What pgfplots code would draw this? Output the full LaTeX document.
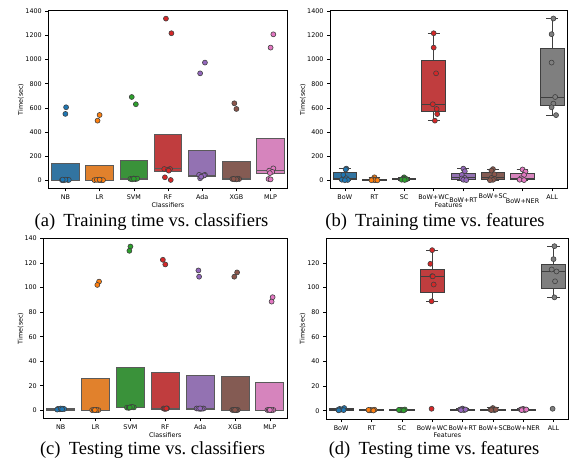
\documentclass[border=0pt]{standalone}
\usepackage{fontspec}
\setmainfont{Liberation Serif}
\newfontfamily\dejavu{DejaVu Sans}
\usepackage{pgfplots}
\pgfplotsset{compat=1.18}
\usepgfplotslibrary{statistics}
\definecolor{bBlue}{HTML}{3274A1}
\definecolor{bOrange}{HTML}{E1812C}
\definecolor{bGreen}{HTML}{3A923A}
\definecolor{bRed}{HTML}{C03D3E}
\definecolor{bPurple}{HTML}{9372B2}
\definecolor{bBrown}{HTML}{845B53}
\definecolor{bPink}{HTML}{D684BD}
\definecolor{bGray}{HTML}{7F7F7F}
\definecolor{pBlue}{HTML}{1F77B4}
\definecolor{pOrange}{HTML}{FF7F0E}
\definecolor{pGreen}{HTML}{2CA02C}
\definecolor{pRed}{HTML}{D62728}
\definecolor{pPurple}{HTML}{9467BD}
\definecolor{pBrown}{HTML}{8C564B}
\definecolor{pPink}{HTML}{E377C2}
\definecolor{pGray}{HTML}{7F7F7F}
\definecolor{edgeA}{HTML}{5A5A5A}
\definecolor{edgeB}{HTML}{3F3F3F}
\definecolor{ptedge}{HTML}{404040}
\newcommand{\smallfont}{\dejavu\fontsize{6.4}{7}\selectfont}
\newcommand{\low}[2]{\raisebox{#1}[\height][\depth]{#2}}
\pgfplotsset{
  panel/.style={scale only axis, anchor=south west,
    axis line style={line width=0.7pt, black},
    tick align=outside, major tick length=3pt, tick pos=left,
    tick style={line width=0.6pt, black},
    ticklabel style={font=\smallfont},
    label style={font=\smallfont},
    /pgf/number format/assume math mode=true,
    /pgf/number format/1000 sep={},
    ylabel={Time(sec)},
    boxplot/draw direction=y,
  },
}
% box: position, lower whisker, Q1, median, Q3, upper whisker, fill, edge
\newcommand{\bx}[8]{\addplot[boxplot prepared={draw position=#1, lower whisker=#2, lower quartile=#3, median=#4, upper quartile=#5, upper whisker=#6, box extend=0.8, whisker extend=0.4}, fill=#7, draw=#8, line width=0.9pt] coordinates {};}
\newcommand{\pts}[2]{\addplot[only marks, mark=*, mark size=2.5pt, mark options={fill=#1, draw=ptedge, line width=0.6pt}] coordinates {#2};}
\begin{document}
\begin{tikzpicture}
\useasboundingbox (0pt,0pt) rectangle (570pt,458pt);
% ---------------- (a) ----------------
\begin{axis}[panel, at={(48.3pt,269.7pt)}, width=239.4pt, height=178pt,
  xmin=-0.5, xmax=6.5, ymin=-66, ymax=1408,
  xtick={0,...,6}, xticklabels={NB,LR,SVM,RF,Ada,XGB,MLP},
  ytick={0,200,...,1400},
  xlabel={Classifiers},
  xlabel style={at={(axis description cs:0.5,-0.094)}, anchor=center},
  ylabel style={at={(axis description cs:-0.115,0.5)}, anchor=center}]
\bx{0}{1}{1}{3}{140}{140}{bBlue}{edgeA}
\bx{1}{1}{1}{3}{124}{124}{bOrange}{edgeA}
\bx{2}{8}{8}{12}{165}{165}{bGreen}{edgeA}
\bx{3}{72}{72}{95}{376}{376}{bRed}{edgeA}
\bx{4}{30}{30}{42}{251}{251}{bPurple}{edgeA}
\bx{5}{8}{8}{12}{160}{160}{bBrown}{edgeA}
\bx{6}{58}{58}{80}{343}{343}{bPink}{edgeA}
\pts{pBlue}{(0.02,605)(0.0,550)(-0.1,2)(0.06,4)(-0.05,1)(0.1,3)(0.0,5)(-0.08,6)}
\pts{pOrange}{(1.0,541)(0.94,494)(0.85,2)(0.98,3)(1.05,1)(0.92,4)(1.1,2)(1.0,5)}
\pts{pGreen}{(1.94,690)(2.06,630)(1.9,12)(2.0,15)(2.05,10)(1.95,8)(2.1,14)(2.0,13)}
\pts{pRed}{(2.94,1339)(3.1,1218)(2.89,94)(3.06,94)(2.91,25)(3.08,3)(3.0,88)(3.02,80)}
\pts{pPurple}{(4.08,975)(3.94,886)(3.91,45)(4.08,45)(3.94,17)(4.0,35)(4.05,40)(3.97,30)}
\pts{pBrown}{(4.94,638)(5.0,591)(4.88,11)(5.08,11)(4.95,9)(5.03,13)(5.0,8)(4.92,12)}
\pts{pPink}{(6.08,1209)(6.0,1099)(5.96,80)(6.08,99)(5.94,11)(6.0,8)(6.05,70)(5.98,60)}
\end{axis}
% ---------------- (b) ----------------
\begin{axis}[panel, at={(330pt,269.7pt)}, width=237pt, height=178pt,
  xmin=-0.5, xmax=7.5, ymin=-66, ymax=1408,
  xtick={0,...,7},
  xticklabels={BoW,RT,SC,BoW+WC,\low{-3pt}{BoW+RT},\low{1pt}{BoW+SC},\low{-4pt}{BoW+NER},ALL},
  ytick={0,200,...,1400},
  xlabel={Features},
  xlabel style={at={(axis description cs:0.5,-0.094)}, anchor=center},
  ylabel style={at={(axis description cs:-0.115,0.5)}, anchor=center}]
\bx{0}{1}{4}{17}{65}{97}{bBlue}{edgeB}
\bx{1}{0.5}{2}{5}{8}{25}{bOrange}{edgeB}
\bx{2}{3}{6}{10}{14}{25}{bGreen}{edgeB}
\bx{3}{494}{569}{630}{991}{1218}{bRed}{edgeB}
\bx{4}{2}{10}{20}{60}{97}{bPurple}{edgeB}
\bx{5}{1}{8}{20}{65}{93}{bBrown}{edgeB}
\bx{6}{2}{7.5}{17}{58}{90}{bPink}{edgeB}
\bx{7}{540}{621}{690}{1091}{1340}{bGray}{edgeB}
\pts{pBlue}{(0.05,97)(0.03,90)(-0.05,45)(0.05,17)(-0.1,5)(0.1,3)(0.0,1)}
\pts{pOrange}{(1.0,25)(0.95,10)(1.05,6)(0.98,4)(1.02,2)(0.9,1)(1.1,0.5)}
\pts{pGreen}{(2.0,25)(2.05,15)(1.95,12)(2.0,10)(2.08,8)(1.92,5)(2.02,3)}
\pts{pRed}{(3.0,1218)(3.0,1099)(3.08,886)(2.97,630)(3.1,591)(3.12,549)(3.04,494)}
\pts{pPurple}{(4.0,97)(4.05,75)(3.95,45)(4.05,20)(3.95,15)(4.0,5)(4.1,2)}
\pts{pBrown}{(5.0,93)(4.95,80)(5.05,50)(4.95,20)(5.05,12)(5.0,4)(4.9,1)}
\pts{pPink}{(6.0,90)(6.1,72)(6.05,44)(5.95,17)(6.0,10)(5.9,5)(6.05,2)}
\pts{pGray}{(7.04,1340)(6.98,1210)(6.98,975)(7.1,690)(7.04,635)(6.98,605)(7.13,540)}
\end{axis}
% ---------------- (c) ----------------
\begin{axis}[panel, at={(43.3pt,39.7pt)}, width=244pt, height=180pt,
  xmin=-0.5, xmax=6.5, ymin=-6.5, ymax=140.2,
  xtick={0,...,6}, xticklabels={NB,LR,SVM,RF,Ada,XGB,MLP},
  ytick={0,20,...,140},
  xlabel={Classifiers},
  xlabel style={at={(axis description cs:0.5,-0.093)}, anchor=center},
  ylabel style={at={(axis description cs:-0.093,0.5)}, anchor=center}]
\bx{0}{0.3}{0.3}{0.8}{1.2}{1.2}{bBlue}{edgeA}
\bx{1}{0.1}{0.1}{0.3}{25.9}{25.9}{bOrange}{edgeA}
\bx{2}{2.2}{2.2}{2.5}{34.6}{34.6}{bGreen}{edgeA}
\bx{3}{1.1}{1.1}{1.5}{31.1}{31.1}{bRed}{edgeA}
\bx{4}{1.0}{1.0}{1.5}{28.4}{28.4}{bPurple}{edgeA}
\bx{5}{0.1}{0.1}{0.3}{27.3}{27.3}{bBrown}{edgeA}
\bx{6}{0.1}{0.1}{0.3}{22.4}{22.4}{bPink}{edgeA}
\pts{pBlue}{(-0.08,1.2)(0.02,1.0)(0.06,1.4)(-0.03,0.8)(0.1,1.1)(-0.1,0.6)(0.0,1.5)(0.04,0.9)}
\pts{pOrange}{(1.1,104.9)(1.05,102.2)(0.9,0.2)(1.0,0.3)(1.08,0.2)(0.95,0.4)(1.03,0.3)(0.98,0.2)}
\pts{pGreen}{(2.0,133.5)(1.97,130)(1.9,2.2)(2.0,2.5)(2.1,2.4)(1.95,2.0)(2.05,2.8)(1.98,2.3)}
\pts{pRed}{(2.93,122.7)(3.0,118.9)(2.95,1.5)(3.02,1.3)(3.05,1.6)(2.98,1.2)(3.0,1.4)(3.03,1.5)}
\pts{pPurple}{(3.95,114)(3.97,108.9)(3.9,1.5)(4.1,1.5)(4.0,1.2)(3.95,1.4)(4.05,1.3)(4.0,1.6)}
\pts{pBrown}{(5.06,112.4)(4.98,108.9)(4.92,0.3)(5.0,0.2)(5.08,0.3)(4.96,0.4)(5.04,0.2)(5.0,0.3)}
\pts{pPink}{(6.08,92.2)(6.05,88.6)(5.93,0.3)(6.02,0.2)(6.1,0.3)(5.97,0.4)(6.05,0.2)(6.0,0.3)}
\end{axis}
% ---------------- (d) ----------------
\begin{axis}[panel, at={(326pt,39pt)}, width=242.7pt, height=180.7pt,
  xmin=-0.5, xmax=7.5, ymin=-6.7, ymax=139.9,
  xtick={0,...,7},
  xticklabels={BoW,RT,SC,BoW+WC,BoW+RT,BoW+SC,BoW+NER,ALL},
  ytick={0,20,...,120},
  xlabel={Features},
  xlabel style={at={(axis description cs:0.5,-0.092)}, anchor=center},
  ylabel style={at={(axis description cs:-0.096,0.5)}, anchor=center}]
\bx{0}{0.2}{0.6}{1.0}{1.5}{2.2}{bBlue}{edgeB}
\bx{1}{0.1}{0.3}{0.5}{0.7}{1.0}{bOrange}{edgeB}
\bx{2}{0.2}{0.4}{0.6}{0.8}{1.2}{bGreen}{edgeB}
\bx{3}{88.8}{95.9}{109.2}{114.3}{130.3}{bRed}{edgeB}
\bx{4}{0.3}{0.6}{0.9}{1.2}{2.0}{bPurple}{edgeB}
\bx{5}{0.3}{0.6}{0.9}{1.2}{2.5}{bBrown}{edgeB}
\bx{6}{0.3}{0.6}{0.9}{1.2}{1.8}{bPink}{edgeB}
\bx{7}{92}{98.9}{112.7}{118.6}{133.5}{bGray}{edgeB}
\pts{pBlue}{(-0.1,0.8)(0.05,1.2)(0.1,2.2)(-0.05,1.5)(0.0,1.0)(0.08,0.5)(-0.08,0.3)}
\pts{pOrange}{(0.92,0.3)(1.05,0.5)(1.1,0.8)(0.97,0.6)(1.0,0.4)(1.06,0.2)(0.9,0.7)}
\pts{pGreen}{(1.92,0.5)(2.05,0.6)(2.1,1.0)(1.97,0.8)(2.0,0.4)(2.06,0.3)(1.9,0.7)}
\pts{pRed}{(3.0,130.3)(2.94,119.2)(3.0,109.2)(3.05,102.4)(2.98,88.8)(2.98,1.6)(3.02,109)}
\pts{pPurple}{(3.92,1.0)(4.0,1.8)(4.08,0.8)(3.97,1.2)(4.04,0.6)(3.95,0.5)(4.1,1.0)}
\pts{pBrown}{(4.92,1.0)(5.0,2.2)(5.08,0.8)(4.97,1.2)(5.04,0.6)(4.95,0.5)(5.1,1.0)}
\pts{pPink}{(5.92,1.0)(6.0,1.5)(6.08,0.8)(5.97,1.2)(6.04,0.6)(5.95,0.5)(6.1,1.0)}
\pts{pGray}{(7.03,133.5)(7.0,123)(6.94,114.6)(7.1,113)(7.05,105)(7.03,92)(6.97,1.6)}
\end{axis}
% ---------------- captions ----------------
\node[anchor=base, font=\fontsize{18.5}{20}\selectfont] at (151.5pt,231.3pt) {(a)\hspace{0.45em}Training time vs.\ classifiers};
\node[anchor=base, font=\fontsize{18.5}{20}\selectfont] at (435pt,231.3pt) {(b)\hspace{0.45em}Training time vs.\ features};
\node[anchor=base, font=\fontsize{18.5}{20}\selectfont] at (152.5pt,3.7pt) {(c)\hspace{0.45em}Testing time vs.\ classifiers};
\node[anchor=base, font=\fontsize{18.5}{20}\selectfont] at (434pt,3.7pt) {(d)\hspace{0.45em}Testing time vs.\ features};
\end{tikzpicture}
\end{document}
